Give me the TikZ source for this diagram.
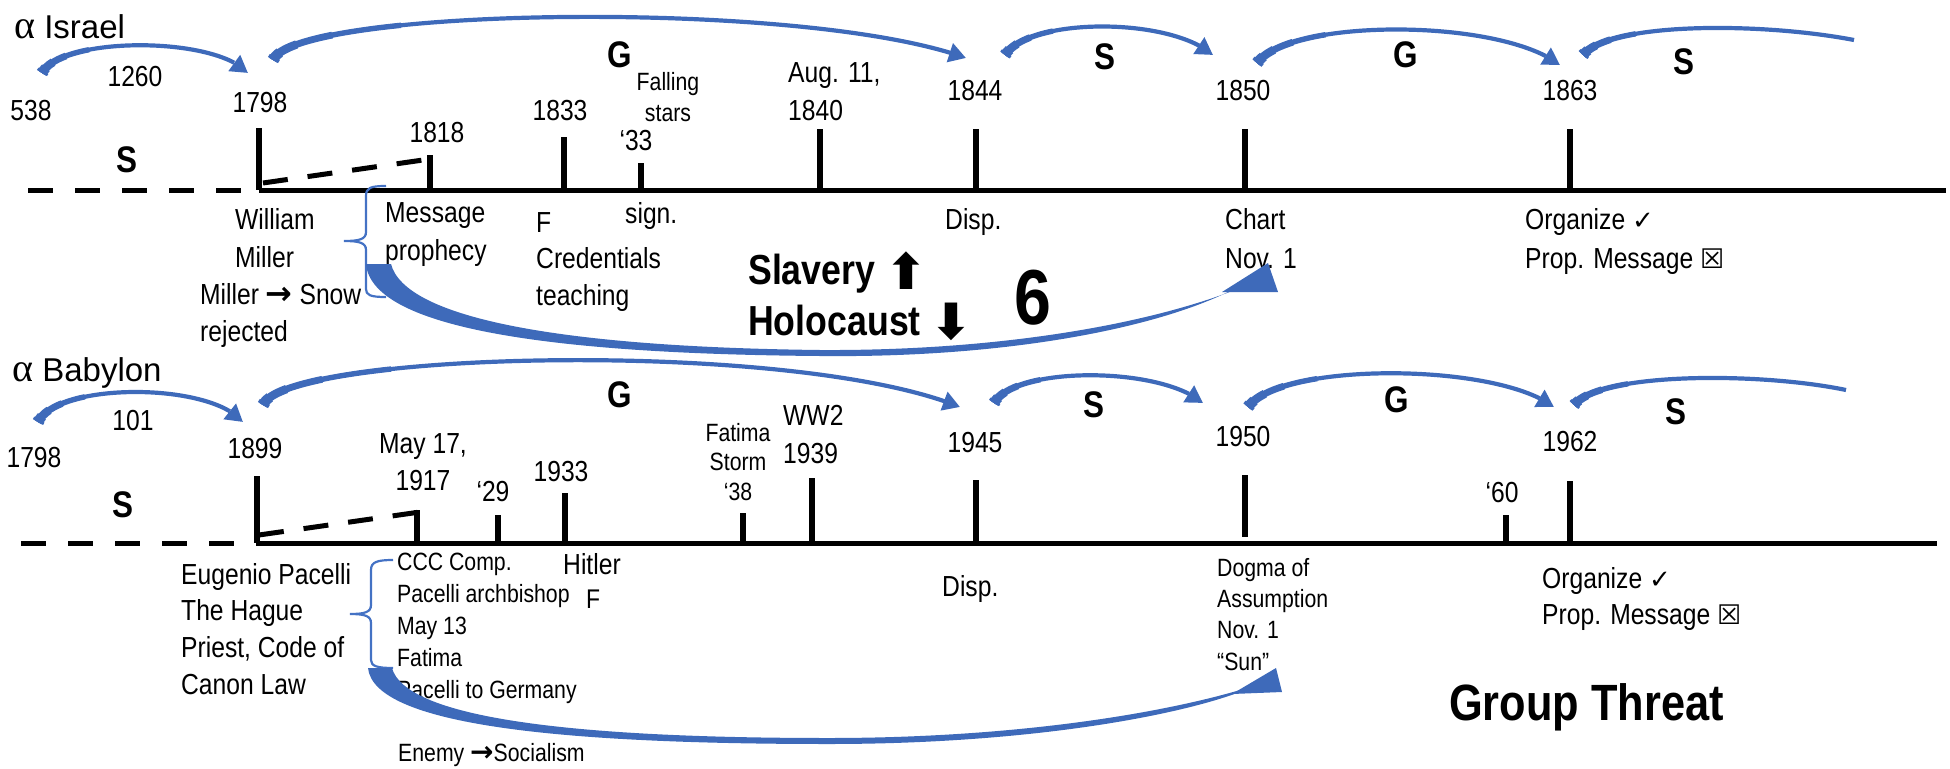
\documentclass[tikz,border=0pt]{standalone}
\usepackage{fontspec}
\setmainfont{Liberation Sans}[FakeStretch=0.85]
\newfontfamily\ttlf{Liberation Sans}
\newfontfamily\symf{DejaVu Sans}
\newfontfamily\grk{Liberation Serif}
\usetikzlibrary{arrows.meta,bending,calc}
\definecolor{arcblue}{RGB}{62,106,186}
\definecolor{braceblue}{RGB}{68,114,196}
\tikzset{
  lbl/.style={inner sep=0pt, font=\fontsize{29}{38}\selectfont},
  sml/.style={inner sep=0pt, font=\fontsize{25}{31.5}\selectfont},
  gslbl/.style={inner sep=0pt, font=\bfseries\fontsize{37}{40}\selectfont},
  ttl/.style={inner sep=0pt, font=\ttlf\fontsize{33}{36}\selectfont},
  tickln/.style={line width=5.5pt},
  axisln/.style={line width=5pt},
  dashax/.style={line width=5pt, dash pattern=on 25pt off 22pt},
  diagdash/.style={line width=5pt, dash pattern=on 25pt off 20pt},
  arcln/.style={draw=arcblue, line width=4.2pt, -{Triangle[length=17pt,width=19pt]}},
  arcplain/.style={draw=arcblue, line width=4.2pt},
  bracest/.style={draw=braceblue, line width=2.2pt},
}
% thick start of a curved arrow: the part [0,t] of the cubic (#1,#2,#3,#4), drawn with width #6
\newcommand\subarc[6]{%
  \coordinate (m01) at ($(#1)!#5!(#2)$);
  \coordinate (m12) at ($(#2)!#5!(#3)$);
  \coordinate (m23) at ($(#3)!#5!(#4)$);
  \coordinate (m012) at ($(m01)!#5!(m12)$);
  \coordinate (m123) at ($(m12)!#5!(m23)$);
  \coordinate (m0123) at ($(m012)!#5!(m123)$);
  \draw[arcblue, line width=#6] (#1) .. controls (m01) and (m012) .. (m0123);}
\newcommand\arctaper[4]{%
  \subarc{#1}{#2}{#3}{#4}{0.30}{5.4pt}
  \subarc{#1}{#2}{#3}{#4}{0.19}{6.8pt}
  \subarc{#1}{#2}{#3}{#4}{0.11}{8.4pt}
  \subarc{#1}{#2}{#3}{#4}{0.05}{10.2pt}
  \subarc{#1}{#2}{#3}{#4}{0.02}{11.8pt}}
\begin{document}
\begin{tikzpicture}[x=1pt,y=-1pt]
\useasboundingbox (0,0) rectangle (1950,768);

%================ TOP : ISRAEL ================
\node[ttl, anchor=base west] (isr) at (14,38) {{\grk\fontsize{40}{40}\selectfont α} Israel};

% timeline
\coordinate (ta) at (28,190);
\coordinate (tb) at (259,190);
\coordinate (tc) at (1946,190);
\draw[dashax] (ta) -- (tb);
\draw[axisln] (tb) -- (tc);
\coordinate (d1) at (263,183);
\coordinate (d2) at (430,159);
\draw[diagdash] (d1) -- (d2);

% ticks
\foreach \nm/\x/\y in {t1798/259/128, t1818/430/155, t1833/564/137, t33/641/163, t1840/820/129, t1844/976/129, t1850/1245/129, t1863/1570/129}{
  \coordinate (\nm) at (\x,\y);
  \draw[tickln] (\nm) -- (\x,190);
}

% year labels
\node[lbl] (y538) at (31,111) {538};
\node[lbl] (y1260) at (135,77) {1260};
\node[lbl] (y1798) at (260,103) {1798};
\node[lbl] (y1818) at (437,133) {1818};
\node[lbl] (y1833) at (560,111) {1833};
\node[lbl] (y33) at (636,141) {‘33};
\node[sml, align=center, anchor=north] (fall) at (668,72) {Falling\\stars};
\node[lbl, align=left, anchor=north west] (aug) at (788,62) {Aug. 11,\\1840};
\node[lbl] (y1844) at (975,91) {1844};
\node[lbl] (y1850) at (1243,91) {1850};
\node[lbl] (y1863) at (1570,91) {1863};

\node[gslbl] (sA) at (127,160) {S};
\node[gslbl] (gA) at (620,55) {G};
\node[gslbl] (sB) at (1105,57) {S};
\node[gslbl] (gB) at (1406,55) {G};
\node[gslbl] (sC) at (1684,62) {S};

% texts below line
\node[lbl, align=left, anchor=north west] (wm) at (235,208) {William\\Miller};
\node[lbl, align=left, anchor=north west, font=\fontsize{29}{37}\selectfont] (mts) at (200,283) {Miller {\symf\bfseries\fontsize{32}{32}\selectfont →} Snow\\rejected};
\node[lbl, align=left, anchor=north west] (msg) at (385,202) {Message\\prophecy};
\node[lbl, align=left, anchor=north west, font=\fontsize{29}{36.5}\selectfont] (cred) at (536,212) {F\\Credentials\\teaching};
\node[lbl, anchor=north west] (sign) at (625,202) {sign.};
\node[lbl, anchor=north west] (dispA) at (945,208) {Disp.};
\node[lbl, align=left, anchor=north west, font=\fontsize{29}{39}\selectfont] (chart) at (1225,208) {Chart\\Nov. 1};
\node[lbl, align=left, anchor=north west, font=\fontsize{29}{39}\selectfont] (orgA) at (1525,208) {Organize {\symf\fontsize{26}{26}\selectfont ✓}\\Prop. Message {\symf\bfseries\fontsize{27}{27}\selectfont ☒}};

\node[inner sep=0pt, anchor=north west, align=left, font=\bfseries\fontsize{42}{51}\selectfont] (slav) at (748,252) {Slavery {\symf\fontsize{50}{50}\selectfont\raisebox{-5pt}{⬆}}\\Holocaust {\symf\fontsize{50}{50}\selectfont\raisebox{-4pt}{⬇}}};
\node[inner sep=0pt, font=\bfseries\fontsize{78}{80}\selectfont] (six) at (1033,298) {6};

% brace
\draw[bracest] (386,186) .. controls (370,186) and (366,188) .. (366,196) -- (366,232)
  .. controls (366,239) and (360,241) .. (344,241) .. controls (360,241) and (366,243) .. (366,250)
  -- (366,289) .. controls (366,295) and (370,297) .. (386,297);

% big curved arrow (top)
\fill[arcblue] (366,264) .. controls (372,330) and (560,354) .. (820,356)
  .. controls (1000,358) and (1150,330) .. (1228,292) -- (1240,288)
  .. controls (1150,324) and (1000,351) .. (820,350)
  .. controls (560,347) and (405,318) .. (391,264) -- cycle;
\fill[arcblue] (1222,292) -- (1278,292) -- (1268,263) -- cycle;

% arcs (top)
\coordinate (a1s) at (42,73);   \coordinate (a1c) at (62,36);   \coordinate (a1d) at (215,36);   \coordinate (a1e) at (248,73);
\draw[arcln] (a1s) .. controls (a1c) and (a1d) .. (a1e);
\arctaper{a1s}{a1c}{a1d}{a1e}
\coordinate (a2s) at (273,60);  \coordinate (a2c) at (295,8);   \coordinate (a2d) at (800,-2);   \coordinate (a2e) at (966,58);
\draw[arcln] (a2s) .. controls (a2c) and (a2d) .. (a2e);
\arctaper{a2s}{a2c}{a2d}{a2e}
\coordinate (a3s) at (1005,55); \coordinate (a3c) at (1030,17); \coordinate (a3d) at (1170,17); \coordinate (a3e) at (1213,55);
\draw[arcln] (a3s) .. controls (a3c) and (a3d) .. (a3e);
\arctaper{a3s}{a3c}{a3d}{a3e}
\coordinate (a4s) at (1257,63); \coordinate (a4c) at (1290,18); \coordinate (a4d) at (1500,18); \coordinate (a4e) at (1560,65);
\draw[arcln] (a4s) .. controls (a4c) and (a4d) .. (a4e);
\arctaper{a4s}{a4c}{a4d}{a4e}
\coordinate (a5s) at (1583,55); \coordinate (a5c) at (1610,22); \coordinate (a5d) at (1760,22); \coordinate (a5e) at (1854,40);
\draw[arcplain] (a5s) .. controls (a5c) and (a5d) .. (a5e);
\arctaper{a5s}{a5c}{a5d}{a5e}

%================ BOTTOM : BABYLON ================
\node[ttl, anchor=base west] (bab) at (12,381) {{\grk\fontsize{40}{40}\selectfont α} Babylon};

\coordinate (ba) at (21,543);
\coordinate (bb) at (257,543);
\coordinate (bc) at (1937,543);
\draw[dashax] (ba) -- (bb);
\draw[axisln] (bb) -- (bc);
\coordinate (e1) at (259,535);
\coordinate (e2) at (420,512);
\draw[diagdash] (e1) -- (e2);

\foreach \nm/\x/\y in {b1899/257/476, b1917/417/510, b29/498/515, b1933/565/493, b38/743/513, b1939/812/478, b1945/976/480, b60/1506/515, b1962/1570/481}{
  \coordinate (\nm) at (\x,\y);
  \draw[tickln] (\nm) -- (\x,543);
}
\coordinate (b1950) at (1245,475);
\coordinate (b1950e) at (1245,537);
\draw[tickln] (b1950) -- (b1950e);

\node[lbl] (z1798) at (34,458) {1798};
\node[lbl] (z101) at (133,421) {101};
\node[lbl] (z1899) at (255,449) {1899};
\node[lbl, align=center, anchor=north, font=\fontsize{29}{37}\selectfont] (may) at (423,433) {May 17,\\1917};
\node[lbl] (z29) at (493,492) {‘29};
\node[lbl] (z1933) at (561,472) {1933};
\node[sml, align=center, anchor=north, font=\fontsize{25}{29.5}\selectfont] (fat) at (738,423) {Fatima\\Storm\\‘38};
\node[lbl, align=left, anchor=north west] (ww2) at (783,405) {WW2\\1939};
\node[lbl] (z1945) at (975,443) {1945};
\node[lbl] (z1950) at (1243,437) {1950};
\node[lbl] (z60) at (1502,493) {‘60};
\node[lbl] (z1962) at (1570,442) {1962};

\node[gslbl] (sD) at (123,505) {S};
\node[gslbl] (gD) at (620,395) {G};
\node[gslbl] (sE) at (1094,405) {S};
\node[gslbl] (gE) at (1397,400) {G};
\node[gslbl] (sF) at (1676,412) {S};

\node[lbl, align=left, anchor=north west, font=\fontsize{29}{36.7}\selectfont] (eug) at (181,563) {Eugenio Pacelli\\The Hague\\Priest, Code of\\Canon Law};
\node[sml, align=left, anchor=north west, font=\fontsize{25}{32}\selectfont] (ccc) at (397,553) {CCC Comp.\\Pacelli archbishop\\May 13\\Fatima\\Pacelli to Germany};
\node[lbl, anchor=north west] (hit) at (563,553) {Hitler};
\node[lbl, anchor=north west, font=\fontsize{27}{30}\selectfont] (fB) at (586,590) {F};
\node[sml, anchor=north west] (enemy) at (398,743) {Enemy {\symf\bfseries\fontsize{28}{28}\selectfont →}Socialism};
\node[lbl, anchor=north west] (dispB) at (942,575) {Disp.};
\node[sml, align=left, anchor=north west, font=\fontsize{25}{31.3}\selectfont] (dogma) at (1217,558) {Dogma of\\Assumption\\Nov. 1\\“Sun”};
\node[lbl, align=left, anchor=north west, font=\fontsize{29}{36}\selectfont] (orgB) at (1542,567) {Organize {\symf\fontsize{26}{26}\selectfont ✓}\\Prop. Message {\symf\bfseries\fontsize{27}{27}\selectfont ☒}};
\node[inner sep=0pt, anchor=north west, font=\bfseries\fontsize{51}{55}\selectfont] (grp) at (1449,683) {Group Threat};

% brace (bottom)
\draw[bracest] (393,560) .. controls (377,560) and (371,562) .. (371,570) -- (371,605)
  .. controls (371,612) and (365,614) .. (350,614) .. controls (365,614) and (371,616) .. (371,623)
  -- (371,660) .. controls (371,666) and (377,668) .. (393,668);

% big curved arrow (bottom)
\fill[arcblue] (368,668) .. controls (374,725) and (560,744) .. (829,744)
  .. controls (1020,744) and (1170,718) .. (1240,692) -- (1250,687)
  .. controls (1170,712) and (1020,738) .. (829,738)
  .. controls (560,738) and (405,716) .. (392,668) -- cycle;
\fill[arcblue] (1232,694) -- (1282,692) -- (1276,668) -- cycle;

% arcs (bottom)
\coordinate (c1s) at (38,422);   \coordinate (c1c) at (58,382);   \coordinate (c1d) at (210,382);  \coordinate (c1e) at (243,422);
\draw[arcln] (c1s) .. controls (c1c) and (c1d) .. (c1e);
\arctaper{c1s}{c1c}{c1d}{c1e}
\coordinate (c2s) at (263,405);  \coordinate (c2c) at (285,352);  \coordinate (c2d) at (790,338);  \coordinate (c2e) at (960,407);
\draw[arcln] (c2s) .. controls (c2c) and (c2d) .. (c2e);
\arctaper{c2s}{c2c}{c2d}{c2e}
\coordinate (c3s) at (994,403);  \coordinate (c3c) at (1015,366); \coordinate (c3d) at (1160,366); \coordinate (c3e) at (1203,403);
\draw[arcln] (c3s) .. controls (c3c) and (c3d) .. (c3e);
\arctaper{c3s}{c3c}{c3d}{c3e}
\coordinate (c4s) at (1248,407); \coordinate (c4c) at (1280,362); \coordinate (c4d) at (1495,362); \coordinate (c4e) at (1554,407);
\draw[arcln] (c4s) .. controls (c4c) and (c4d) .. (c4e);
\arctaper{c4s}{c4c}{c4d}{c4e}
\coordinate (c5s) at (1574,405); \coordinate (c5c) at (1600,372); \coordinate (c5d) at (1760,372); \coordinate (c5e) at (1846,390);
\draw[arcplain] (c5s) .. controls (c5c) and (c5d) .. (c5e);
\arctaper{c5s}{c5c}{c5d}{c5e}
\end{tikzpicture}
\end{document}
